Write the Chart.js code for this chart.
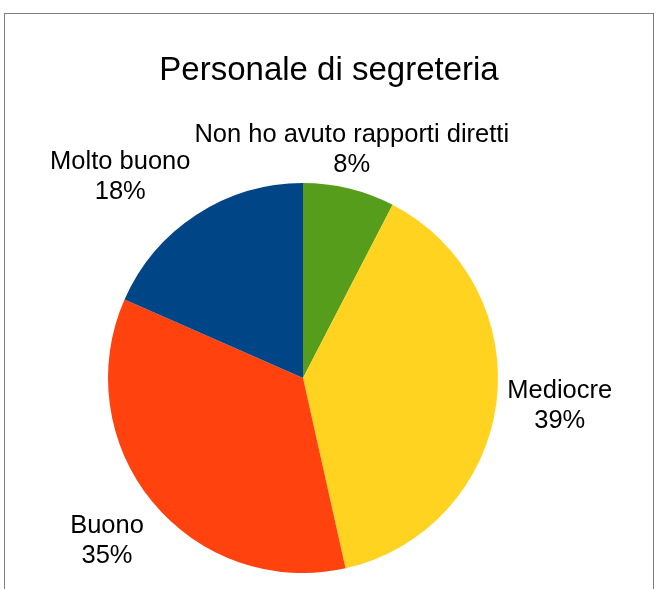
<!DOCTYPE html>
<html>
<head>
<meta charset="utf-8">
<script src="https://cdn.jsdelivr.net/npm/chart.js@4/dist/chart.umd.min.js"></script>
<style>
  html, body { margin: 0; padding: 0; background: #fff; overflow: hidden; }
  #wrap { position: relative; width: 660px; height: 589px; }
  #frame { position: absolute; left: 4px; top: 13px; width: 650px; height: 640px; border: 1px solid #808080; box-sizing: border-box; }
  canvas { position: absolute; left: 0; top: 0; }
</style>
</head>
<body>
<div id="wrap">
  <div id="frame"></div>
  <canvas id="chart" width="660" height="589"></canvas>
</div>
<script>
// dati (in senso orario dalle 12)
const titolo = "Personale di segreteria";
const categorie = ["Non ho avuto rapporti diretti", "Mediocre", "Buono", "Molto buono"];
const valori = [7.6, 38.9, 35.1, 18.4];   // stimati dagli angoli delle fette
const colori = ["#579d1c", "#ffd320", "#ff420e", "#004586"];

const FONT = '"Liberation Sans", Arial, sans-serif';

// titolo + etichette esterne
const etichette = {
  id: "etichette",
  afterDraw(chart) {
    const ctx = chart.ctx;
    const totale = valori.reduce((a, b) => a + b, 0);
    ctx.save();
    ctx.fillStyle = "#000";
    ctx.textAlign = "center";
    ctx.textBaseline = "alphabetic";
    ctx.font = "33px " + FONT;
    ctx.fillText(titolo, 329, 80);

    ctx.font = "25.5px " + FONT;
    const meta = chart.getDatasetMeta(0);
    meta.data.forEach((arc, i) => {
      const p = arc.getProps(["x", "y", "startAngle", "endAngle", "outerRadius"], true);
      const mid = (p.startAngle + p.endAngle) / 2;
      const dx = Math.cos(mid), dy = Math.sin(mid);
      const ax = p.x + dx * (p.outerRadius + 11);
      const ay = p.y + dy * (p.outerRadius + 11);
      const righe = [categorie[i], Math.round(valori[i] / totale * 100) + "%"];
      const w = Math.max(...righe.map(r => ctx.measureText(r).width));
      const h = 60;
      let left, top;
      if (Math.abs(dx) < 0.4) left = ax - w / 2;
      else if (dx > 0) left = ax;
      else left = ax - w;
      if (Math.abs(dy) < 0.4) top = ay - h / 2;
      else if (dy > 0) top = ay;
      else top = ay - h;
      const cx = left + w / 2;
      ctx.fillText(righe[0], cx, top + 24);
      ctx.fillText(righe[1], cx, top + 54);
    });
    ctx.restore();
  }
};

new Chart(document.getElementById("chart"), {
  type: "pie",
  data: {
    labels: categorie,
    datasets: [{
      data: valori,
      backgroundColor: colori,
      borderWidth: 0
    }]
  },
  options: {
    responsive: false,
    animation: false,
    layout: { padding: { left: 108, right: 162, top: 183, bottom: 16 } },
    plugins: {
      legend: { display: false },
      title: { display: false },
      tooltip: { enabled: false }
    }
  },
  plugins: [etichette]
});
</script>
</body>
</html>
